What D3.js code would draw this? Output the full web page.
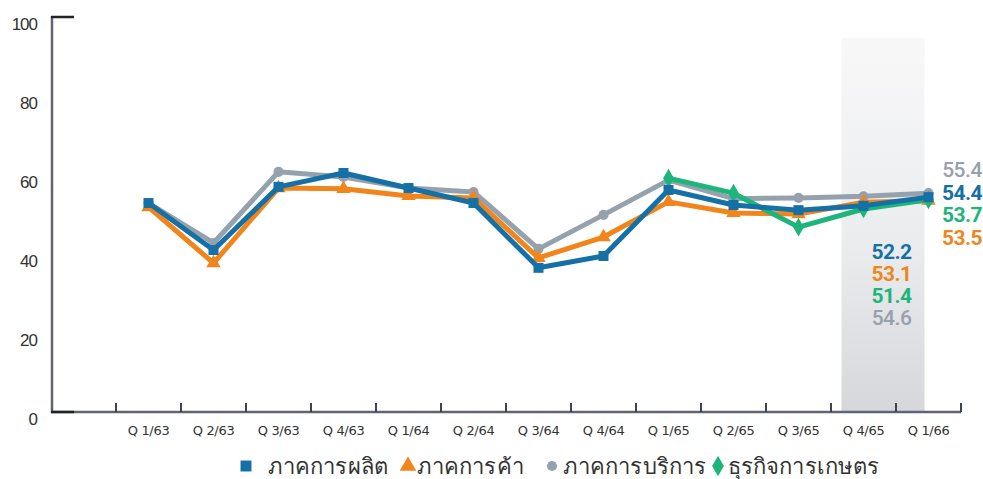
<!DOCTYPE html>
<html>
<head>
<meta charset="utf-8">
<script src="https://cdn.jsdelivr.net/npm/d3@7"></script>
<style>
  html, body { margin: 0; padding: 0; background: #fff; }
  svg { display: block; }
</style>
</head>
<body>
<svg id="chart" width="983" height="479"></svg>
<script>
const categories = ["Q 1/63","Q 2/63","Q 3/63","Q 4/63","Q 1/64","Q 2/64","Q 3/64","Q 4/64","Q 1/65","Q 2/65","Q 3/65","Q 4/65","Q 1/66"];
const manufacturing = [52.9, 41.0, 57.0, 60.5, 56.7, 52.9, 36.5, 39.5, 56.2, 52.4, 51.1, 52.2, 54.4];
const trade         = [51.9, 37.7, 56.7, 56.5, 54.7, 54.2, 39.0, 44.3, 53.2, 50.4, 50.1, 53.1, 53.5];
const services      = [52.9, 42.8, 60.8, 59.5, 56.7, 55.7, 41.3, 49.9, 58.7, 54.0, 54.2, 54.6, 55.4];
const agriculture   = [null, null, null, null, null, null, null, null, 59.2, 55.4, 46.8, 51.4, 53.7];
const yTicks = [0, 20, 40, 60, 80, 100];
const seriesNames = ["ภาคการผลิต", "ภาคการค้า", "ภาคการบริการ", "ธุรกิจการเกษตร"];

const svg = d3.select("#chart");
const x = d3.scaleBand().domain(categories).range([116, 961]).paddingInner(0).paddingOuter(0);
const y = d3.scaleLinear().domain([0, 100]).range([412, 17]);
const cx = c => x(c) + x.bandwidth() / 2;

// shaded highlight
const defs = svg.append("defs");
const grad = defs.append("linearGradient").attr("id", "shade").attr("x1", 0).attr("y1", 0).attr("x2", 0).attr("y2", 1);
grad.append("stop").attr("offset", "0%").attr("stop-color", "#f8f8f9");
grad.append("stop").attr("offset", "55%").attr("stop-color", "#ebecee");
grad.append("stop").attr("offset", "100%").attr("stop-color", "#d5d7db");
svg.append("rect")
  .attr("x", cx("Q 4/65") - 22).attr("y", 38)
  .attr("width", 83).attr("height", y(0) - 38)
  .attr("fill", "url(#shade)");

// axes
const yAxis = svg.append("g").attr("transform", "translate(52,0)")
  .call(d3.axisLeft(y).tickValues(yTicks).tickSize(0).tickPadding(15).tickFormat(d3.format("d")));
yAxis.select(".domain").remove();
yAxis.selectAll("text").attr("dy", "0.32em").attr("transform", "translate(0,7)")
  .attr("font-family", "Liberation Sans, Arial, sans-serif").attr("font-size", 17).attr("fill", "#333")
  .attr("letter-spacing", -1);

svg.append("line").attr("x1", 52).attr("x2", 52).attr("y1", 16).attr("y2", 413)
  .attr("stroke", "#5c6573").attr("stroke-width", 2.5);
svg.append("line").attr("x1", 51).attr("x2", 961).attr("y1", 412).attr("y2", 412)
  .attr("stroke", "#5c6573").attr("stroke-width", 2.5);
svg.append("line").attr("x1", 51).attr("x2", 74).attr("y1", 17).attr("y2", 17)
  .attr("stroke", "#222").attr("stroke-width", 2.5);
svg.append("line").attr("x1", 51).attr("x2", 74).attr("y1", 412).attr("y2", 412)
  .attr("stroke", "#222").attr("stroke-width", 2.5);

// boundary ticks
const bounds = categories.map(c => x(c)).concat([x(categories[categories.length - 1]) + x.bandwidth()]);
svg.append("g").selectAll("line").data(bounds).join("line")
  .attr("x1", d => d).attr("x2", d => d).attr("y1", 403).attr("y2", 412)
  .attr("stroke", "#3c4452").attr("stroke-width", 2);

const xAxis = svg.append("g").attr("transform", "translate(0,412)")
  .call(d3.axisBottom(x).tickSize(0).tickPadding(14));
xAxis.select(".domain").remove();
xAxis.selectAll("text").attr("font-family", "DejaVu Sans, sans-serif").attr("font-size", 13).attr("fill", "#333")
  .attr("letter-spacing", -0.3);

// series
const series = [
  { name: seriesNames[2], values: services, color: "#95a1ad", shape: "circle" },
  { name: seriesNames[1], values: trade, color: "#f0861b", shape: "triangle" },
  { name: seriesNames[3], values: agriculture, color: "#1db57c", shape: "diamond" },
  { name: seriesNames[0], values: manufacturing, color: "#1570a6", shape: "square" }
];
const symbolMap = { circle: d3.symbolCircle, triangle: d3.symbolTriangle, diamond: d3.symbolDiamond, square: d3.symbolSquare };
const symbolSize = { circle: 80, triangle: 90, diamond: 100, square: 100 };

const line = d3.line().defined(d => d.v != null).x(d => cx(d.c)).y(d => y(d.v));
series.forEach(s => {
  const pts = categories.map((c, i) => ({ c, v: s.values[i] }));
  const g = svg.append("g");
  g.append("path").datum(pts).attr("d", line)
    .attr("fill", "none").attr("stroke", s.color).attr("stroke-width", 5).attr("stroke-linejoin", "round");
  g.selectAll("path.m").data(pts.filter(d => d.v != null)).join("path").attr("class", "m")
    .attr("transform", d => `translate(${cx(d.c)},${y(d.v)})`)
    .attr("d", d3.symbol().type(symbolMap[s.shape]).size(symbolSize[s.shape])())
    .attr("fill", s.color);
});

// value labels
const lblFont = "Roboto, Liberation Sans, sans-serif";
const q4 = [
  { v: manufacturing[11], color: "#1570a6", w: 700 },
  { v: trade[11], color: "#f0861b", w: 700 },
  { v: agriculture[11], color: "#1db57c", w: 700 },
  { v: services[11], color: "#95a1ad", w: 500 }
];
const q1 = [
  { v: services[12], color: "#95a1ad", w: 500 },
  { v: manufacturing[12], color: "#1570a6", w: 700 },
  { v: agriculture[12], color: "#1db57c", w: 700 },
  { v: trade[12], color: "#f0861b", w: 700 }
];
svg.append("g").selectAll("text").data(q4).join("text")
  .attr("x", cx("Q 4/65") + 28).attr("y", (d, i) => 259 + i * 22)
  .attr("text-anchor", "middle").attr("font-family", lblFont).attr("font-size", 21)
  .attr("font-weight", d => d.w).attr("fill", d => d.color).attr("letter-spacing", -0.5)
  .text(d => d3.format(".1f")(d.v));
svg.append("g").selectAll("text").data(q1).join("text")
  .attr("x", 962).attr("y", (d, i) => 177 + i * 22.5)
  .attr("text-anchor", "middle").attr("font-family", lblFont).attr("font-size", 21)
  .attr("font-weight", d => d.w).attr("fill", d => d.color).attr("letter-spacing", -0.5)
  .text(d => d3.format(".1f")(d.v));

// legend
const legendItems = [
  { name: seriesNames[0], color: "#1570a6", shape: "square", sx: 246, tx: 268 },
  { name: seriesNames[1], color: "#f0861b", shape: "triangle", sx: 408, tx: 417 },
  { name: seriesNames[2], color: "#95a1ad", shape: "circle", sx: 552, tx: 563 },
  { name: seriesNames[3], color: "#1db57c", shape: "diamond", sx: 718, tx: 728 }
];
const lg = svg.append("g");
lg.selectAll("path").data(legendItems).join("path")
  .attr("transform", d => `translate(${d.sx},466)`)
  .attr("d", d => d3.symbol().type(symbolMap[d.shape]).size(d.shape === "circle" ? 80 : 120)())
  .attr("fill", d => d.color);
lg.selectAll("text").data(legendItems).join("text")
  .attr("x", d => d.tx).attr("y", 466).attr("dy", "0.35em")
  .attr("font-family", "Noto Sans, sans-serif").attr("font-size", 22).attr("fill", "#333")
  .attr("letter-spacing", 0.1)
  .text(d => d.name);
</script>
</body>
</html>
